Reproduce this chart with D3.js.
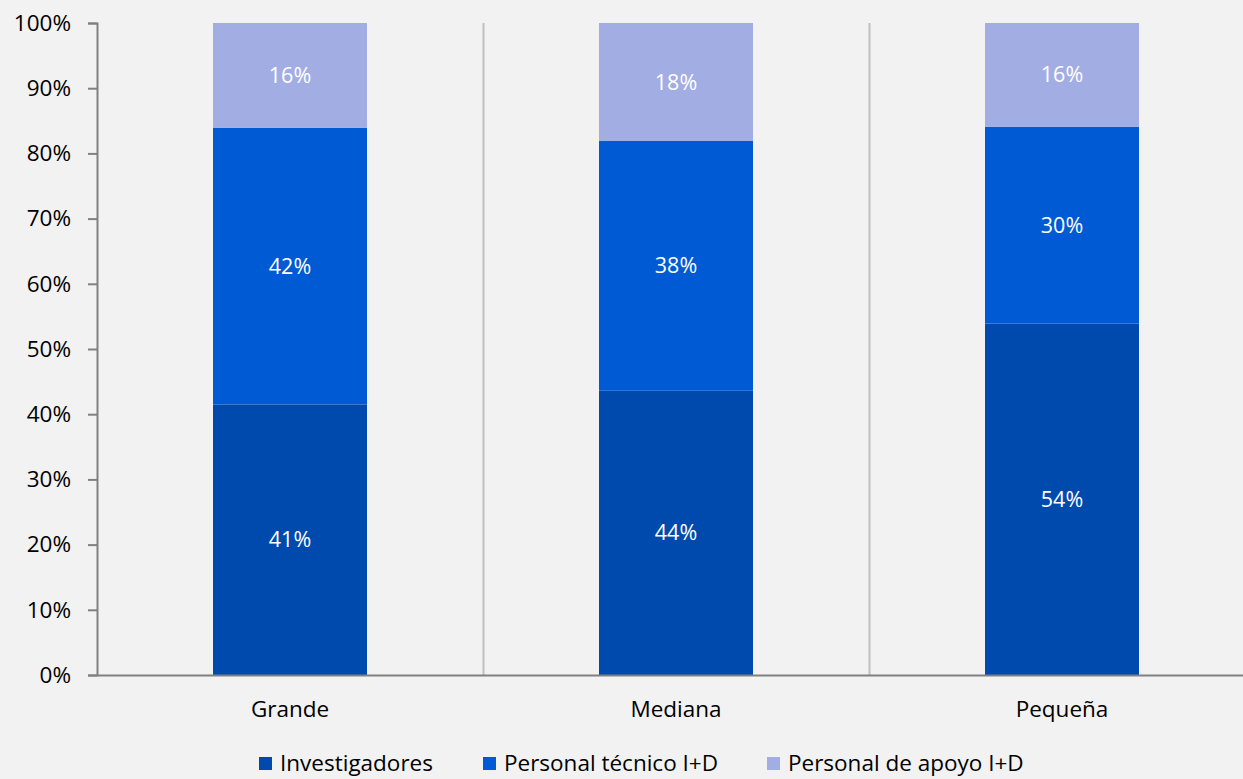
<!DOCTYPE html>
<html><head><meta charset="utf-8">
<script src="https://cdn.jsdelivr.net/npm/d3@7"></script>
<style>
html,body{margin:0;padding:0;background:#f2f2f2;}
svg{display:block;font-family:"Open Sans","Noto Sans",sans-serif;}
</style></head>
<body>
<svg id="chart" width="1243" height="779"></svg>
<script>
const categories = ["Grande", "Mediana", "Pequeña"];
const seriesNames = ["Investigadores", "Personal técnico I+D", "Personal de apoyo I+D"];
const investigadores = [41.5, 43.6, 53.9];
const tecnico = [42.4, 38.3, 30.2];
const apoyo = [16.1, 18.1, 15.9];
const labelInvestigadores = ["41%", "44%", "54%"];
const labelTecnico = ["42%", "38%", "30%"];
const labelApoyo = ["16%", "18%", "16%"];
const yTicks = [0, 10, 20, 30, 40, 50, 60, 70, 80, 90, 100];
const colors = ["#004aad", "#005ad3", "#a2aee3"];

(function () {
const svg = d3.select("#chart");
const mLeft = 97, mTop = 23, mBottom = 675, bandW = 386;
const fs = 22.5;
const x = d3.scaleBand().domain(categories).range([mLeft, mLeft + bandW * categories.length]).paddingInner(0).paddingOuter(0);
const y = d3.scaleLinear().domain([0, 100]).range([mBottom, mTop]);

const rows = categories.map((c, i) => ({cat: c, s0: investigadores[i], s1: tecnico[i], s2: apoyo[i]}));
const stack = d3.stack().keys(["s0", "s1", "s2"])(rows);
const labels = [labelInvestigadores, labelTecnico, labelApoyo];

// separators
svg.append("g").selectAll("line").data(categories.slice(1)).join("line")
  .attr("x1", d => x(d) + 0.5).attr("x2", d => x(d) + 0.5)
  .attr("y1", mTop).attr("y2", mBottom)
  .attr("stroke", "#bfbfbf").attr("stroke-width", 2);

const barW = 154;
stack.forEach((layer, li) => {
  const g = svg.append("g");
  g.selectAll("rect").data(layer).join("rect")
    .attr("x", d => x(d.data.cat) + x.bandwidth() / 2 - barW / 2)
    .attr("width", barW)
    .attr("y", d => y(d[1]))
    .attr("height", d => y(d[0]) - y(d[1]))
    .attr("fill", colors[li]);
  g.selectAll("text").data(layer).join("text")
    .attr("x", d => x(d.data.cat) + x.bandwidth() / 2)
    .attr("y", d => (y(d[0]) + y(d[1])) / 2)
    .attr("dy", "0.35em")
    .attr("text-anchor", "middle")
    .attr("fill", "#ffffff")
    .attr("font-size", 21.5)
    .text((d, i) => labels[li][i]);
});

// y axis
const yAxis = d3.axisLeft(y).tickValues(yTicks).tickFormat(d => d + "%").tickSize(9).tickPadding(17);
const ya = svg.append("g").attr("transform", `translate(${mLeft},0)`).call(yAxis);
ya.select(".domain").attr("stroke", "#808080").attr("stroke-width", 2);
ya.selectAll(".tick line").attr("stroke", "#808080").attr("stroke-width", 2);
ya.selectAll(".tick text").attr("fill", "#000").attr("font-size", fs).attr("font-family", "'Open Sans','Noto Sans',sans-serif");

// x axis
const xAxis = d3.axisBottom(x).tickSize(0).tickPadding(26);
const xa = svg.append("g").attr("transform", `translate(0,${mBottom})`).call(xAxis);
xa.select(".domain").attr("stroke", "#808080").attr("stroke-width", 2);
xa.selectAll(".tick text").attr("fill", "#000").attr("font-size", fs).attr("font-family", "'Open Sans','Noto Sans',sans-serif");

// legend
const legendX = [259, 483, 767];
const lg = svg.append("g");
seriesNames.forEach((n, i) => {
  lg.append("rect").attr("x", legendX[i]).attr("y", 757).attr("width", 13).attr("height", 13).attr("fill", colors[i]);
  lg.append("text").attr("x", legendX[i] + 21).attr("y", 763).attr("dy", "0.35em")
    .attr("font-size", fs).attr("fill", "#000").text(n);
});
})();
</script>
</body></html>
